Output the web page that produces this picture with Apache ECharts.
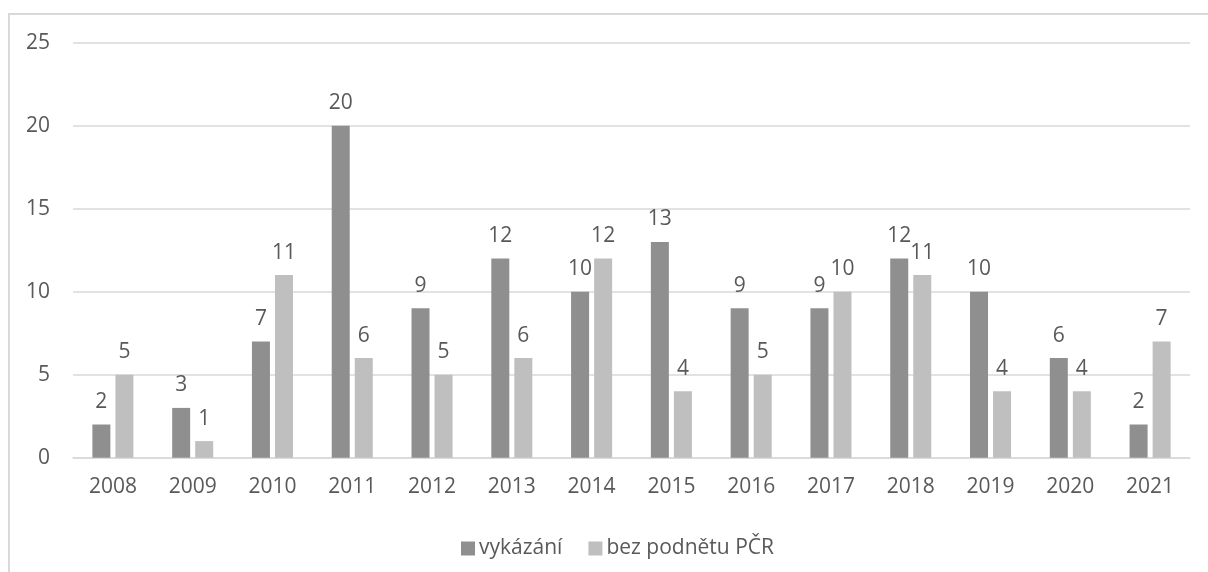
<!DOCTYPE html>
<html>
<head>
<meta charset="utf-8">
<script src="https://cdn.jsdelivr.net/npm/echarts@6/dist/echarts.min.js"></script>
<style>
html,body{margin:0;padding:0;background:#fff;}
#c{width:1208px;height:572px;}
</style>
</head>
<body>
<div id="c"></div>
<script>
const categories = ['2008','2009','2010','2011','2012','2013','2014','2015','2016','2017','2018','2019','2020','2021'];
const vykazani = [2,3,7,20,9,12,10,13,9,9,12,10,6,2];
const bezPodnetu = [5,1,11,6,5,6,12,4,5,10,11,4,4,7];
const yTicks = {min:0, max:25, interval:5};

const font = '"Open Sans", sans-serif';
const txt = '#595959';
const chart = echarts.init(document.getElementById('c'));
chart.setOption({
  animation:false,
  backgroundColor:'#fff',
  graphic:[{type:'rect', shape:{x:9, y:14, width:1400, height:800}, style:{fill:'none', stroke:'#d9d9d9', lineWidth:2}, silent:true}],
  grid:{left:73, right:18, top:42.7, bottom:114.3},
  legend:{
    bottom:13, left:461, padding:0,
    itemWidth:14, itemHeight:14, itemGap:26,
    icon:'rect',
    textStyle:{color:txt, fontFamily:font, fontSize:21, padding:[0,0,0,-1]},
    data:['vykázání','bez podnětu PČR']
  },
  xAxis:{
    type:'category', data:categories,
    axisLine:{lineStyle:{color:'#d9d9d9', width:1.5}},
    axisTick:{show:false},
    axisLabel:{color:txt, fontFamily:font, fontSize:21, margin:19}
  },
  yAxis:{
    type:'value', min:yTicks.min, max:yTicks.max, interval:yTicks.interval,
    axisLine:{show:false}, axisTick:{show:false},
    splitLine:{lineStyle:{color:'#d9d9d9', width:1.5}},
    axisLabel:{color:txt, fontFamily:font, fontSize:21, margin:23}
  },
  series:[
    {name:'vykázání', type:'bar', data:vykazani, barWidth:18, barGap:'28%',
     itemStyle:{color:'#8f8f8f'},
     label:{show:true, position:'top', distance:12, color:txt, fontFamily:font, fontSize:21}},
    {name:'bez podnětu PČR', type:'bar', data:bezPodnetu, barWidth:18, barGap:'28%',
     itemStyle:{color:'#bfbfbf'},
     label:{show:true, position:'top', distance:12, color:txt, fontFamily:font, fontSize:21}}
  ]
});
</script>
</body>
</html>
